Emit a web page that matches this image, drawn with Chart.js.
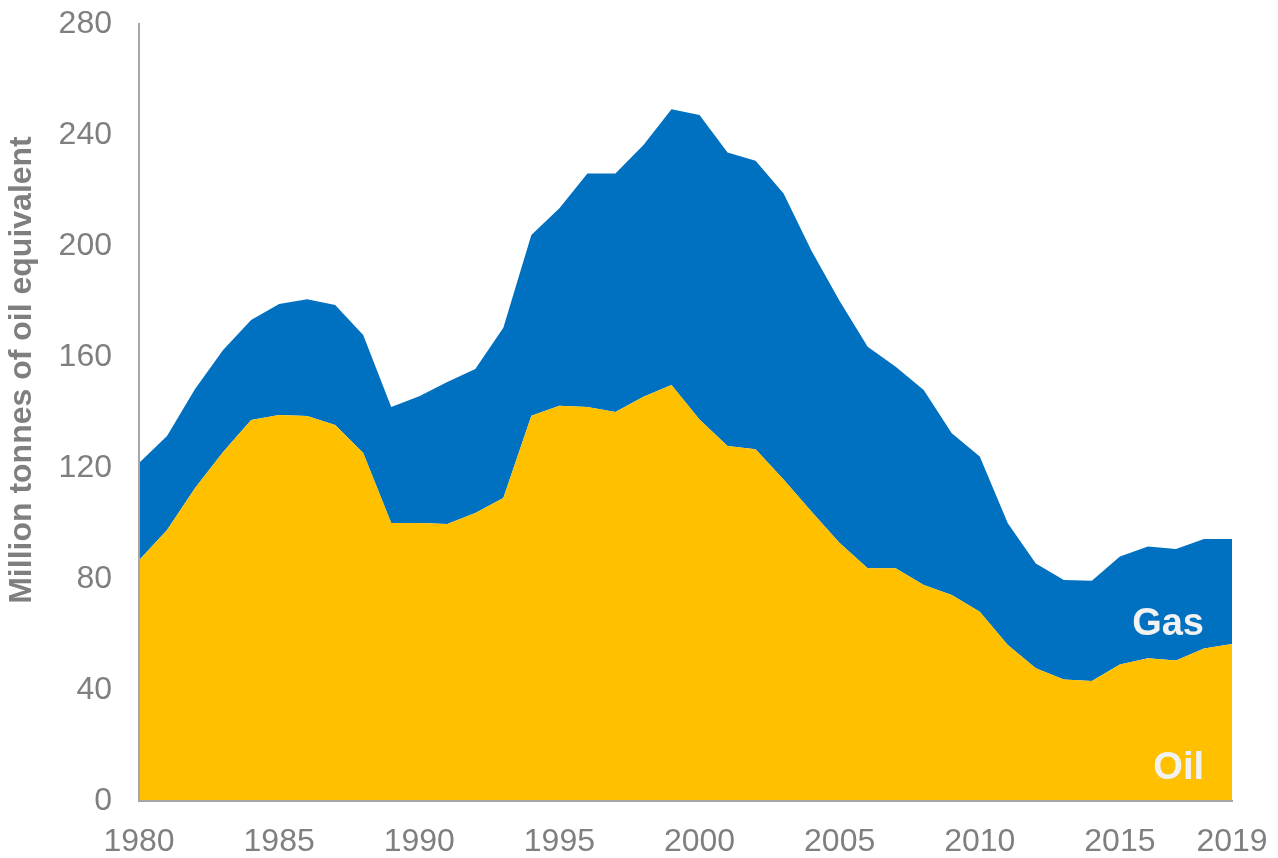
<!DOCTYPE html>
<html>
<head>
<meta charset="utf-8">
<script src="https://cdn.jsdelivr.net/npm/chart.js@4.4.1/dist/chart.umd.min.js"></script>
<style>
  html, body { margin: 0; padding: 0; background: #ffffff; }
  #wrap { width: 1278px; height: 858px; position: relative; }
</style>
</head>
<body>
<div id="wrap"><canvas id="chart"></canvas></div>
<script>
// Production by year, million tonnes of oil equivalent
const years = [
  1980, 1981, 1982, 1983, 1984, 1985, 1986, 1987, 1988, 1989,
  1990, 1991, 1992, 1993, 1994, 1995, 1996, 1997, 1998, 1999,
  2000, 2001, 2002, 2003, 2004, 2005, 2006, 2007, 2008, 2009,
  2010, 2011, 2012, 2013, 2014, 2015, 2016, 2017, 2018, 2019
];

const oil = [
  86.8, 97.7, 112.8, 125.8, 137.3, 139.1, 138.7, 135.5, 125.4, 100.2,
  100.2, 99.8, 103.8, 109.2, 138.8, 142.4, 142.0, 140.2, 145.7, 149.9,
  137.5, 127.9, 126.8, 115.9, 104.2, 93.0, 83.9, 83.9, 77.8, 74.2,
  68.2, 56.2, 47.8, 43.8, 43.2, 49.2, 51.4, 50.6, 55.0, 56.6
];

const gas = [
  35.0, 33.8, 35.7, 36.7, 36.0, 40.0, 42.1, 43.2, 42.5, 41.8,
  45.7, 51.2, 51.9, 61.3, 65.2, 71.2, 84.1, 85.9, 90.7, 99.4,
  109.7, 105.8, 103.9, 103.0, 94.0, 87.2, 79.8, 72.6, 70.3, 58.3,
  55.9, 43.9, 37.8, 35.8, 36.2, 38.9, 40.3, 40.2, 39.4, 37.8
];

const yTicks = [0, 40, 80, 120, 160, 200, 240, 280];
const xTickYears = [1980, 1985, 1990, 1995, 2000, 2005, 2010, 2015, 2019];
const yTitle = 'Million tonnes of oil equivalent';

const COL_OIL = '#FFC000';
const COL_GAS = '#0070C0';
const COL_TEXT = '#7f7f7f';
const COL_AXIS = '#a6a6a6';
const FONT = '"Liberation Sans", Arial, sans-serif';

// In-area series names, drawn in white at the right end of each band
const seriesLabels = {
  id: 'seriesLabels',
  afterDatasetsDraw(chart) {
    const { ctx, chartArea } = chart;
    ctx.save();
    ctx.fillStyle = '#f2f2f2';
    ctx.font = 'bold 38px ' + FONT;
    ctx.textAlign = 'right';
    ctx.textBaseline = 'alphabetic';
    const xr = chartArea.right - 28;
    ctx.fillText('Gas', xr, chartArea.bottom - 166);
    ctx.fillText('Oil', xr, chartArea.bottom - 22);
    ctx.restore();
  }
};

// Vertical value-axis title, set a little above the middle of the plot
const axisTitle = {
  id: 'axisTitle',
  afterDraw(chart) {
    const { ctx, chartArea } = chart;
    ctx.save();
    ctx.translate(22, chartArea.top + 346);
    ctx.rotate(-Math.PI / 2);
    ctx.fillStyle = COL_TEXT;
    ctx.font = 'bold 32px ' + FONT;
    ctx.textAlign = 'center';
    ctx.textBaseline = 'middle';
    ctx.fillText(yTitle, 0, 0);
    ctx.restore();
  }
};

new Chart(document.getElementById('chart'), {
  type: 'line',
  data: {
    labels: years,
    datasets: [
      {
        label: 'Oil',
        data: oil,
        backgroundColor: COL_OIL,
        borderColor: COL_OIL,
        borderWidth: 0,
        pointRadius: 0,
        fill: 'origin',
        tension: 0
      },
      {
        label: 'Gas',
        data: gas,
        backgroundColor: COL_GAS,
        borderColor: COL_GAS,
        borderWidth: 0,
        pointRadius: 0,
        fill: '-1',
        tension: 0
      }
    ]
  },
  options: {
    responsive: true,
    maintainAspectRatio: false,
    animation: false,
    layout: { padding: { top: 24, right: 46, left: 0, bottom: 0 } },
    plugins: {
      legend: { display: false },
      tooltip: { enabled: false }
    },
    scales: {
      x: {
        type: 'category',
        offset: false,
        grid: { display: true, drawOnChartArea: false, drawTicks: false },
        border: { display: true, color: COL_AXIS, width: 2, z: 1 },
        ticks: {
          autoSkip: false,
          maxRotation: 0,
          minRotation: 0,
          padding: 22,
          color: COL_TEXT,
          font: { family: FONT, size: 32 },
          callback: function (value, index) {
            const y = years[index];
            return xTickYears.includes(y) ? String(y) : '';
          }
        },
        afterFit: function (scale) {
          scale.height = 57;
          scale.paddingLeft = 0;
          scale.paddingRight = 0;
        }
      },
      y: {
        stacked: true,
        min: 0,
        max: 280,
        afterBuildTicks: function (scale) {
          scale.ticks = yTicks.map(v => ({ value: v }));
        },
        grid: { display: true, drawOnChartArea: false, drawTicks: false },
        border: { display: true, color: COL_AXIS, width: 2, z: 1 },
        ticks: {
          padding: 27,
          color: COL_TEXT,
          font: { family: FONT, size: 32 }
        },
        afterFit: function (scale) {
          scale.width = 139;
          scale.paddingTop = 0;
          scale.paddingBottom = 0;
        }
      }
    }
  },
  plugins: [seriesLabels, axisTitle]
});
</script>
</body>
</html>
